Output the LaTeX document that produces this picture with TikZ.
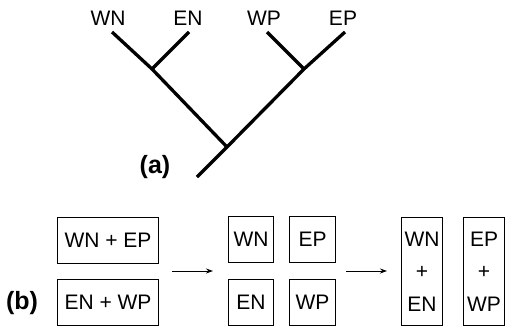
\documentclass[tikz,border=0pt]{standalone}
\usepackage{fontspec}
\setmainfont{Liberation Sans}
\usetikzlibrary{arrows.meta}
\begin{document}
\begin{tikzpicture}[x=1pt,y=-1pt,
  branch/.style={line width=3.3pt},
  leaflabel/.style={font=\fontsize{21}{21}\selectfont, inner sep=0pt},
  panel/.style={font=\bfseries\fontsize{25}{25}\selectfont, inner sep=0pt},
  box/.style={draw, line width=1.1pt, font=\fontsize{21}{32.5}\selectfont, inner sep=0pt, align=center, anchor=north west},
  flow/.style={line width=1pt, -{Stealth[length=7pt,width=5pt]}}]
\useasboundingbox (0,0) rectangle (505,330);
% (a) tree
\node[leaflabel] (lWN) at (108,18) {WN};
\node[leaflabel] (lEN) at (188,18) {EN};
\node[leaflabel] (lWP) at (264,18) {WP};
\node[leaflabel] (lEP) at (343,18) {EP};
\coordinate (tWN) at (112,32);
\coordinate (tEN) at (189,32);
\coordinate (tWP) at (267,32);
\coordinate (tEP) at (345,32);
\coordinate (j1) at (152,69);
\coordinate (j2) at (304,69);
\coordinate (root) at (227,147);
\coordinate (stem) at (197,177);
\draw[branch] (tWN) -- (j1) -- (root);
\draw[branch] (tEN) -- (j1);
\draw[branch] (tWP) -- (j2);
\draw[branch] (tEP) -- (j2) -- (root) -- (stem);
\node[panel] (pa) at (155,167) {(a)};
% (b)
\node[panel] (pb) at (22,303) {(b)};
\node[box, minimum width=101pt, minimum height=46pt] (b1) at (57,217) {WN + EP};
\node[box, minimum width=101pt, minimum height=46pt] (b2) at (57,279) {EN + WP};
\node[box, minimum width=45pt, minimum height=46pt] (c1) at (228,216) {WN};
\node[box, minimum width=46pt, minimum height=46pt] (c2) at (289,216) {EP};
\node[box, minimum width=45pt, minimum height=46pt] (c3) at (228,279) {EN};
\node[box, minimum width=46pt, minimum height=46pt] (c4) at (289,279) {WP};
\node[box, minimum width=41pt, minimum height=108pt] (d1) at (401,217) {WN\\+\\EN};
\node[box, minimum width=41pt, minimum height=108pt] (d2) at (463,217) {EP\\+\\WP};
\coordinate (a1s) at (172,271);
\coordinate (a1e) at (213,271);
\coordinate (a2s) at (346,271);
\coordinate (a2e) at (387,271);
\draw[flow] (a1s) -- (a1e);
\draw[flow] (a2s) -- (a2e);
\end{tikzpicture}
\end{document}
